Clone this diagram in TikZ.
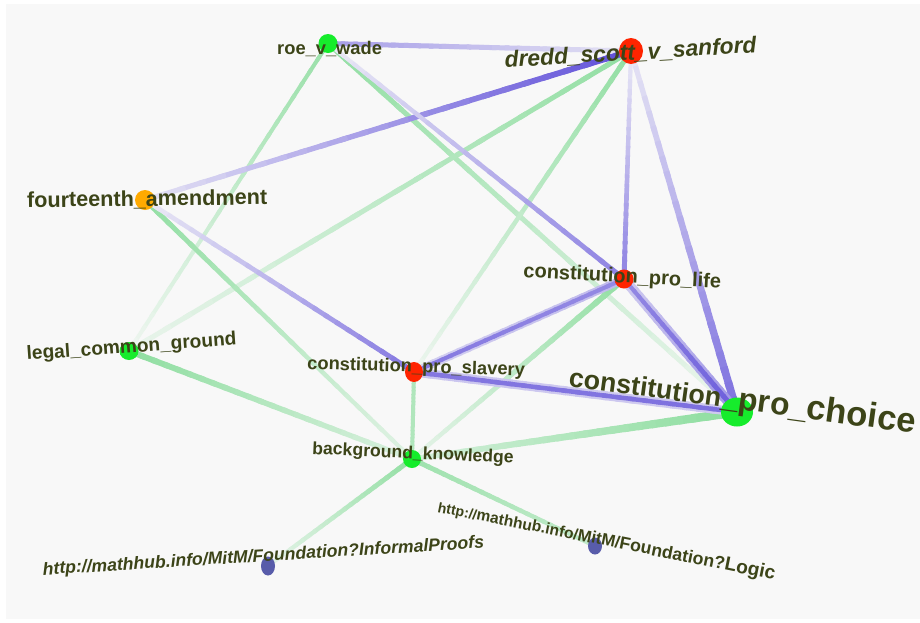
\documentclass[tikz,border=0pt]{standalone}
\usepackage{fontspec}
\setmainfont{Liberation Sans}
\usetikzlibrary{calc,shapes.geometric}

\definecolor{canvas}{RGB}{248,248,248}
\definecolor{txt}{RGB}{60,68,24}
\definecolor{gnode}{RGB}{22,236,44}
\definecolor{rnode}{RGB}{255,36,0}
\definecolor{onode}{RGB}{255,170,0}
\definecolor{bnode}{RGB}{88,92,170}
\definecolor{gedge}{RGB}{128,218,148}
\definecolor{pedge}{RGB}{82,64,214}

\pgfdeclarelayer{backdrop}
\pgfdeclarelayer{links}
\pgfsetlayers{backdrop,links,main}

% graded link: from, to, colour, % at start, % at end, width at start, width at end
\newcommand{\linkgrad}[7]{%
  \foreach \k in {1,...,24}{%
    \pgfmathsetmacro{\ta}{(\k-1)/24}%
    \pgfmathsetmacro{\tb}{min(1,(\k+0.35)/24)}%
    \pgfmathtruncatemacro{\pc}{#4+(#5-#4)*(\k-0.5)/24}%
    \pgfmathsetmacro{\lw}{#6+(#7-#6)*(\k-0.5)/24}%
    \colorlet{segcol}{#3!\pc!canvas}%
    \draw[line width=\lw pt, segcol] ($(#1.center)!\ta!(#2.center)$) -- ($(#1.center)!\tb!(#2.center)$);%
  }}

\tikzset{
  dot/.style={ellipse, inner sep=0pt, draw=none},
  lbl/.style={text=txt, inner sep=0pt, anchor=base west},
}
\newcommand{\lblfont}[1]{\bfseries\fontsize{#1}{#1}\selectfont}

\begin{document}
\begin{tikzpicture}[x=1pt,y=-1pt]
\useasboundingbox (0,0) rectangle (920,622);

% graph vertices
\node[dot, fill=gnode, minimum width=19, minimum height=19] (roe) at (328,43.5) {};
\node[dot, fill=rnode, minimum width=24, minimum height=26] (dredd) at (631,51) {};
\node[dot, fill=onode, minimum width=20, minimum height=20] (fourt) at (145,200) {};
\node[dot, fill=gnode, minimum width=19, minimum height=18] (legal) at (129,351) {};
\node[dot, fill=rnode, minimum width=18, minimum height=20] (slav) at (414,372) {};
\node[dot, fill=rnode, minimum width=19, minimum height=19] (life) at (624,279) {};
\node[dot, fill=gnode, minimum width=32, minimum height=29] (choice) at (737,412) {};
\node[dot, fill=gnode, minimum width=18, minimum height=18] (bgk) at (412,459) {};
\node[dot, fill=bnode, minimum width=14, minimum height=19] (informal) at (268,566) {};
\node[dot, fill=bnode, minimum width=14, minimum height=17] (logic) at (595,546) {};

% labels
\node[lbl, font=\lblfont{18.3}] (roe-t) at (277,54.5) {roe\_v\_wade};
\node[lbl, font=\lblfont{22.8}\itshape, rotate=3.4] (dredd-t) at (505,67.5) {dredd\_scott\_v\_sanford};
\node[lbl, font=\lblfont{21.6}, rotate=0.7] (fourt-t) at (27,207.5) {fourteenth\_amendment};
\node[lbl, font=\lblfont{19.1}, rotate=4.1] (legal-t) at (27,360) {legal\_common\_ground};
\node[lbl, font=\lblfont{18.3}, rotate=-1.8] (slav-t) at (307,369) {constitution\_pro\_slavery};
\node[lbl, font=\lblfont{20}, rotate=-3.2] (life-t) at (523,277) {constitution\_pro\_life};
\node[lbl, font=\bfseries, rotate=-7.8] (choice-t) at (568,386)
  {\fontsize{26.8}{26}\selectfont constitution\fontsize{31.8}{31}\selectfont\_pro\_\fontsize{34.6}{34}\selectfont choice};
\node[lbl, font=\lblfont{17.6}, rotate=-2.6] (bgk-t) at (312,454) {background\_knowledge};
\node[lbl, font=\lblfont{17.6}\itshape, rotate=3.5] (informal-t) at (43,575) {http://mathhub.info/MitM/Foundation?InformalProofs};
\node[lbl, font=\bfseries, rotate=-11.4] (logic-t) at (437,512)
  {\fontsize{14.2}{14}\selectfont http://\fontsize{15.6}{15}\selectfont mathhub.info/\fontsize{16.7}{16}\selectfont MitM/\fontsize{17.7}{17}\selectfont Foundation?\fontsize{19.2}{19}\selectfont Logic};

\begin{pgfonlayer}{backdrop}
  \fill[white] (0,0) rectangle (920,622);
  \fill[canvas] (6,4) rectangle (920,619);
\end{pgfonlayer}

\begin{pgfonlayer}{links}
  % green links
  \linkgrad{roe}{legal}{gedge}{80}{8}{4}{4}
  \linkgrad{roe}{choice}{gedge}{85}{10}{5}{5}
  \linkgrad{dredd}{legal}{gedge}{85}{12}{5}{5}
  \linkgrad{dredd}{slav}{gedge}{85}{10}{5}{4}
  \linkgrad{fourt}{bgk}{gedge}{85}{20}{5}{4}
  \linkgrad{legal}{bgk}{gedge}{88}{25}{6}{5}
  \linkgrad{slav}{bgk}{gedge}{60}{60}{4}{4}
  \linkgrad{life}{bgk}{gedge}{85}{15}{6}{4}
  \linkgrad{choice}{bgk}{gedge}{90}{30}{9}{5}
  \linkgrad{bgk}{informal}{gedge}{85}{15}{5}{4}
  \linkgrad{bgk}{logic}{gedge}{75}{45}{5}{4}
  % purple links
  \linkgrad{roe}{dredd}{pedge}{50}{12}{5}{5}
  \linkgrad{dredd}{fourt}{pedge}{92}{12}{6}{5}
  \linkgrad{roe}{life}{pedge}{8}{65}{4}{5}
  \linkgrad{dredd}{life}{pedge}{8}{65}{4}{5}
  \linkgrad{dredd}{choice}{pedge}{10}{75}{5}{8}
  \linkgrad{fourt}{slav}{pedge}{8}{70}{4.5}{5}
  \linkgrad{slav}{life}{pedge}{22}{35}{8}{8}
  \linkgrad{slav}{life}{pedge}{70}{60}{4}{4}
  \linkgrad{slav}{choice}{pedge}{28}{25}{9}{9}
  \linkgrad{slav}{choice}{pedge}{70}{75}{4.5}{4.5}
  \linkgrad{life}{choice}{pedge}{25}{55}{10}{10}
  \linkgrad{life}{choice}{pedge}{60}{85}{4}{5}
\end{pgfonlayer}
\end{tikzpicture}
\end{document}
